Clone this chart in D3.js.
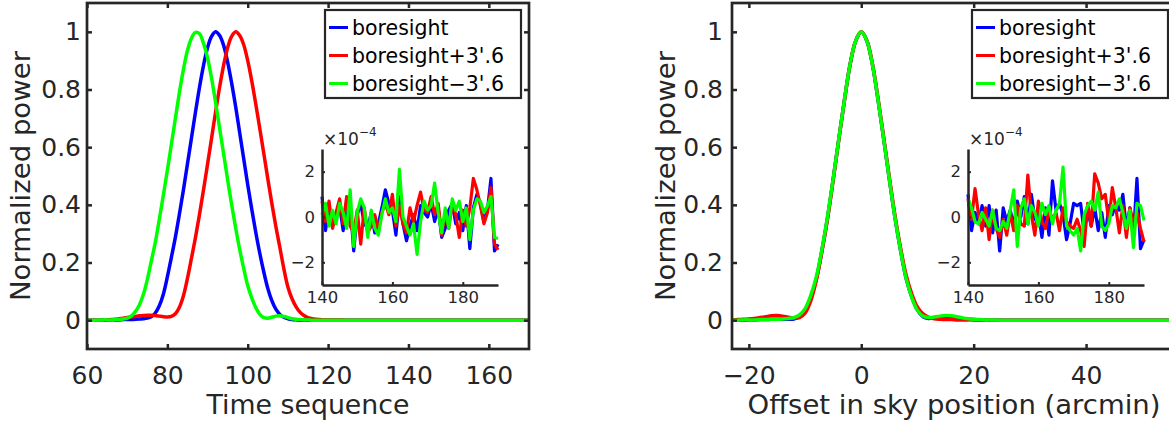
<!DOCTYPE html>
<html><head><meta charset="utf-8">
<script src="https://cdn.jsdelivr.net/npm/d3@7"></script>
<style>
body{margin:0;background:#fff;}
svg{display:block;font-family:"DejaVu Sans",sans-serif;}
</style>
</head><body>
<svg id="c" width="1169" height="421"></svg>
<script>
// ---------------- DATA ----------------
const seriesNames = ["boresight", "boresight+3'.6", "boresight\u22123'.6"];
const seriesColors = ["#0000ff", "#ff0000", "#00ff00"];

// Left panel: time sequence
const timeX = [60,62,64,65,66,67,68,69,70,71,72,73,74,75,76,77,78,79,80,81,82,83,84,85,86,87,88,89,90,91,92,93,94,95,96,97,98,99,100,101,102,103,104,105,106,107,108,109,110,111,112,113,114,115,116,117,118,119,120,125,130,135,140,145,150,155,160,165,170];
const timeBlue = [0,0,0,0,0.001,0.001,0.001,0.002,0.002,0.002,0.003,0.004,0.005,0.007,0.012,0.025,0.05,0.09,0.15,0.218,0.288,0.368,0.452,0.542,0.632,0.722,0.808,0.884,0.945,0.984,1.0,0.987,0.953,0.895,0.822,0.74,0.65,0.56,0.47,0.385,0.305,0.232,0.167,0.11,0.068,0.038,0.02,0.01,0.005,0.002,0.001,0,0,0,0,0,0,0,0,0,0,0,0,0,0,0,0,0,0];
const timeRed = [0,0,0,0.001,0.002,0.003,0.005,0.007,0.009,0.011,0.013,0.015,0.016,0.017,0.017,0.016,0.014,0.012,0.011,0.013,0.022,0.045,0.085,0.145,0.215,0.287,0.367,0.452,0.541,0.631,0.722,0.808,0.884,0.945,0.984,1.0,0.987,0.955,0.9,0.83,0.75,0.665,0.578,0.49,0.405,0.325,0.252,0.178,0.115,0.075,0.047,0.028,0.016,0.009,0.005,0.003,0.002,0.001,0.001,0,0,0,0,0,0,0,0,0,0];
const timeGreen = [0,0,0.001,0.001,0.001,0.002,0.002,0.004,0.007,0.014,0.029,0.052,0.088,0.14,0.205,0.27,0.35,0.433,0.52,0.61,0.70,0.79,0.87,0.935,0.978,0.998,0.993,0.96,0.91,0.84,0.755,0.666,0.577,0.487,0.40,0.32,0.245,0.18,0.12,0.077,0.044,0.02,0.009,0.007,0.01,0.014,0.015,0.013,0.009,0.005,0.003,0.002,0.001,0.001,0,0,0,0,0,0,0,0,0,0,0,0,0,0,0];

// Right panel: offset in sky position (arcmin)
const skyX = [-23,-22,-21,-20,-19,-18,-17,-16,-15,-14,-13,-12,-11,-10,-9,-8,-7,-6,-5,-4,-3,-2,-1,0,1,2,3,4,5,6,7,8,9,10,11,12,13,14,15,16,17,18,19,20,21,22,23,25,30,35,40,45,50,56];
const skyBlue = [0,0,0,0.001,0.001,0.002,0.002,0.003,0.003,0.003,0.003,0.004,0.012,0.035,0.08,0.143,0.241,0.355,0.488,0.627,0.762,0.885,0.968,1.0,0.968,0.885,0.762,0.627,0.488,0.355,0.241,0.143,0.08,0.035,0.012,0.006,0.008,0.011,0.013,0.012,0.009,0.006,0.003,0.002,0.001,0,0,0,0,0,0,0,0,0];
const skyRed = [0.001,0.002,0.003,0.004,0.006,0.009,0.012,0.015,0.016,0.014,0.01,0.007,0.009,0.024,0.066,0.138,0.238,0.352,0.486,0.626,0.762,0.886,0.968,1.0,0.97,0.888,0.767,0.633,0.495,0.363,0.25,0.155,0.09,0.045,0.022,0.01,0.005,0.003,0.002,0.002,0.001,0.001,0.001,0.001,0,0,0,0,0,0,0,0,0,0];
const skyGreen = [0,0,0.001,0.001,0.001,0.002,0.002,0.003,0.003,0.004,0.006,0.009,0.018,0.04,0.085,0.15,0.246,0.36,0.49,0.628,0.763,0.886,0.968,1.0,0.968,0.885,0.762,0.627,0.488,0.355,0.241,0.143,0.078,0.034,0.014,0.009,0.011,0.014,0.016,0.015,0.012,0.008,0.005,0.003,0.002,0.001,0.001,0,0,0,0,0,0,0];

// Insets: residual noise (x 1e-4) vs sample index
const insetX = [140,141,142,143,144,145,146,147,148,149,150,151,152,153,154,155,156,157,158,159,160,161,162,163,164,165,166,167,168,169,170,171,172,173,174,175,176,177,178,179,180,181,182,183,184,185,186,187,188,189,190];
const insetLBlue = [0.9,-0.6,0.4,-0.4,0.1,0.5,-0.6,0.2,0.6,-1.5,0.1,0.6,-0.3,-0.5,0.2,-0.7,-0.3,0.4,1.2,0.6,0.3,-0.8,0.9,-0.3,-1.05,-0.4,0.1,-0.6,0.5,0.2,0.0,0.6,-0.2,0.4,-0.9,-0.5,0.3,0.6,-0.3,0.2,-0.6,0.5,-1.4,0.4,1.0,0.6,-0.2,0.3,1.7,-1.5,-1.2];
const insetLRed = [0.7,-0.2,0.7,-0.5,0.2,0.8,-0.3,0.9,-0.4,-0.7,0.3,-1.2,0.4,-0.7,-0.4,0.1,-0.6,0.2,0.6,0.1,1.0,-0.4,0.5,-0.3,-0.7,0.4,-0.2,0.5,1.1,0.3,0.2,0.9,0.1,0.6,-0.8,0.2,-0.5,0.6,0.1,-0.9,0.3,-0.4,0.4,1.7,1.2,0.5,-0.3,0.2,1.3,-1.2,-1.45];
const insetLGreen = [0.1,0.6,-0.4,0.3,-0.3,0.6,0.2,-0.5,1.2,-1.3,0.2,0.8,0.4,-0.9,0.3,-0.5,-0.8,0.1,0.8,0.2,0.4,-0.2,2.1,0.0,-0.4,-0.8,-0.3,-1.65,-0.2,0.7,0.3,0.5,1.5,0.2,-0.7,0.4,-0.5,0.8,0.3,0.7,-0.2,0.4,-1.0,0.3,0.8,0.7,0.2,0.5,0.9,-0.9,-0.95];
const insetRBlue = [1.0,-0.6,0.2,-0.3,0.5,-0.4,0.5,-0.7,0.3,-1.5,0.4,-0.2,0.3,-0.4,0.7,0.0,0.9,-0.3,1.0,-0.1,0.2,-0.9,0.4,-0.8,1.6,0.3,0.6,0.1,-1.0,-0.3,0.6,0.5,0.6,-0.7,0.3,-0.4,0.4,-0.6,0.2,-0.9,0.5,0.1,0.6,0.3,1.0,-0.5,0.4,-0.8,1.7,-1.4,-1.0];
const insetRRed = [0.8,-0.1,1.25,0.1,-0.6,0.4,-1.0,0.3,-0.5,-0.9,-0.1,-0.8,0.2,-0.6,0.5,-0.3,-0.4,1.85,0.1,-0.8,0.7,-0.2,-0.5,0.3,-0.1,0.2,-0.6,0.4,-0.2,-0.4,-0.5,-0.1,-0.6,-1.3,0.6,-0.4,1.9,1.5,0.8,1.0,-0.2,1.3,0.4,-0.7,0.5,-0.9,0.4,-0.3,0.2,-0.5,-1.1];
const insetRGreen = [0.8,0.4,-0.2,-0.3,0.2,-0.1,-0.4,0.3,-0.5,-0.6,-0.2,-0.5,0.3,1.2,-1.3,0.4,0.8,-0.3,0.5,0.2,-0.4,0.6,0.1,0.5,-0.3,0.3,0.6,2.2,-0.4,-0.6,-0.8,-0.5,-1.5,0.1,0.5,0.7,0.3,1.1,-0.4,-0.6,-0.3,0.5,0.4,0.8,0.2,-0.5,0.3,-1.35,0.6,0.5,-0.15];

// Tick labels
const mainYTicks = [0, 0.2, 0.4, 0.6, 0.8, 1];
const timeXTicks = [60, 80, 100, 120, 140, 160];
const skyXTicks = [-20, 0, 20, 40];
const insetXTicks = [140, 160, 180];
const insetYTicks = [-2, 0, 2];
const xLabels = ["Time sequence", "Offset in sky position (arcmin)"];
const yLabel = "Normalized power";

// ---------------- DRAW ----------------
const svg = d3.select("#c");
const AX = "#262626";
const fmtY = v => (v === 0 ? "0" : v === 1 ? "1" : d3.format(".1f")(v));
const fmtNeg = v => (v < 0 ? "\u2212" + Math.abs(v) : String(v));

function panel(cfg, idx) {
  const g = svg.append("g");
  const x = d3.scaleLinear().domain(cfg.xDomain).range([cfg.left, cfg.right]);
  const y = d3.scaleLinear().domain([-0.1, 1.1]).range([cfg.bottom, cfg.top]);
  const clipId = "clip" + idx;
  svg.append("clipPath").attr("id", clipId).append("rect")
    .attr("x", cfg.left).attr("y", cfg.top)
    .attr("width", cfg.right - cfg.left).attr("height", cfg.bottom - cfg.top);

  // curves
  const line = d3.line().x((d, i) => x(cfg.xs[i])).y(d => y(d)).curve(d3.curveCatmullRom.alpha(0.5));
  cfg.ys.forEach((arr, k) => {
    g.append("path").datum(arr).attr("d", line)
      .attr("fill", "none").attr("stroke", seriesColors[k]).attr("stroke-width", 3.5)
      .attr("stroke-linejoin", "round").attr("clip-path", `url(#${clipId})`);
  });

  // axes (inward ticks, box)
  const tk = 5;
  const bottomAx = d3.axisBottom(x).tickValues(cfg.xTicks).tickSize(-tk).tickPadding(17).tickSizeOuter(0).tickFormat(fmtNeg);
  const topAx = d3.axisTop(x).tickValues(cfg.xTicks).tickSize(-tk).tickSizeOuter(0).tickFormat("");
  const leftAx = d3.axisLeft(y).tickValues(mainYTicks).tickSize(-tk).tickPadding(cfg.yPad).tickSizeOuter(0).tickFormat(fmtY);
  const rightAx = d3.axisRight(y).tickValues(mainYTicks).tickSize(-tk).tickSizeOuter(0).tickFormat("");
  const axes = [
    [bottomAx, `translate(0,${cfg.bottom})`],
    [topAx, `translate(0,${cfg.top})`],
    [leftAx, `translate(${cfg.left},0)`],
    [rightAx, `translate(${cfg.right},0)`]
  ];
  axes.forEach(([ax, tr]) => {
    const a = g.append("g").attr("transform", tr).call(ax);
    a.select(".domain").remove();
    a.selectAll(".tick line").attr("stroke", AX).attr("stroke-width", 2.5);
    a.selectAll("text").attr("fill", AX).attr("font-size", 25).attr("font-family", "DejaVu Sans");
  });
  g.append("rect").attr("x", cfg.left).attr("y", cfg.top)
    .attr("width", cfg.right - cfg.left).attr("height", cfg.bottom - cfg.top)
    .attr("fill", "none").attr("stroke", AX).attr("stroke-width", 2.7);

  // axis labels
  g.append("text").attr("x", (cfg.left + cfg.right) / 2).attr("y", 414)
    .attr("text-anchor", "middle").attr("font-size", 27).attr("fill", AX)
    .attr("textLength", cfg.xLabelLen).attr("lengthAdjust", "spacingAndGlyphs")
    .text(cfg.xLabel);
  g.append("text").attr("transform", `translate(${cfg.left - 57},${(cfg.top + cfg.bottom) / 2}) rotate(-90)`)
    .attr("text-anchor", "middle").attr("font-size", 27).attr("fill", AX)
    .attr("textLength", 250).attr("lengthAdjust", "spacingAndGlyphs")
    .text(yLabel);

  // legend
  const lw = 196, lh = 88;
  const lx = cfg.right - 8 - lw, ly = 10;
  const lg = g.append("g");
  lg.append("rect").attr("x", lx).attr("y", ly).attr("width", lw).attr("height", lh)
    .attr("fill", "#fff").attr("stroke", AX).attr("stroke-width", 2.2);
  seriesNames.forEach((name, k) => {
    const by = 35 + k * 28;
    lg.append("line").attr("x1", lx + 4).attr("x2", lx + 23).attr("y1", by - 7.5).attr("y2", by - 7.5)
      .attr("stroke", seriesColors[k]).attr("stroke-width", 3);
    lg.append("text").attr("x", lx + 27).attr("y", by).attr("font-size", 20.5).attr("fill", "#000")
      .text(name);
  });

  // inset
  const ix = d3.scaleLinear().domain([140, 190]).range([cfg.inL, cfg.inL + 176]);
  const iy = d3.scaleLinear().domain([-3, 3]).range([285, 149]);
  const ig = g.append("g");
  ig.append("rect").attr("x", cfg.inL).attr("y", 149).attr("width", 176).attr("height", 136).attr("fill", "#fff");
  const iline = d3.line().x((d, i) => ix(insetX[i])).y(d => iy(d));
  cfg.inset.forEach((arr, k) => {
    ig.append("path").datum(arr).attr("d", iline).attr("fill", "none")
      .attr("stroke", seriesColors[k]).attr("stroke-width", 3.2).attr("stroke-linejoin", "round");
  });
  const ibx = d3.axisBottom(ix).tickValues(insetXTicks).tickSize(-3).tickPadding(6).tickSizeOuter(0);
  const ily = d3.axisLeft(iy).tickValues(insetYTicks).tickSize(-3).tickPadding(7).tickSizeOuter(0).tickFormat(fmtNeg);
  [[ibx, `translate(0,285)`], [ily, `translate(${cfg.inL},0)`]].forEach(([ax, tr]) => {
    const a = ig.append("g").attr("transform", tr).call(ax);
    a.select(".domain").attr("stroke", AX).attr("stroke-width", 2.5);
    a.selectAll(".tick line").attr("stroke", AX).attr("stroke-width", 2);
    a.selectAll("text").attr("fill", AX).attr("font-size", 16.5).attr("font-family", "DejaVu Sans");
  });
  const ex = ig.append("text").attr("x", cfg.inL + 1).attr("y", 145).attr("font-size", 17).attr("fill", AX);
  ex.append("tspan").text("\u00d710");
  ex.append("tspan").attr("dy", -9).attr("font-size", 12).text("\u22124");
}

panel({
  left: 87, right: 529, top: 3, bottom: 349, xDomain: [60, 170], xTicks: timeXTicks,
  xs: timeX, ys: [timeBlue, timeRed, timeGreen], xLabel: xLabels[0], xLabelLen: 203, yPad: 6,
  inL: 322, inset: [insetLBlue, insetLRed, insetLGreen]
}, 0);
panel({
  left: 732, right: 1176, top: 3, bottom: 349, xDomain: [-23, 56], xTicks: skyXTicks,
  xs: skyX, ys: [skyBlue, skyRed, skyGreen], xLabel: xLabels[1], xLabelLen: 413, yPad: 9,
  inL: 968, inset: [insetRBlue, insetRRed, insetRGreen]
}, 1);
</script>
</body></html>
